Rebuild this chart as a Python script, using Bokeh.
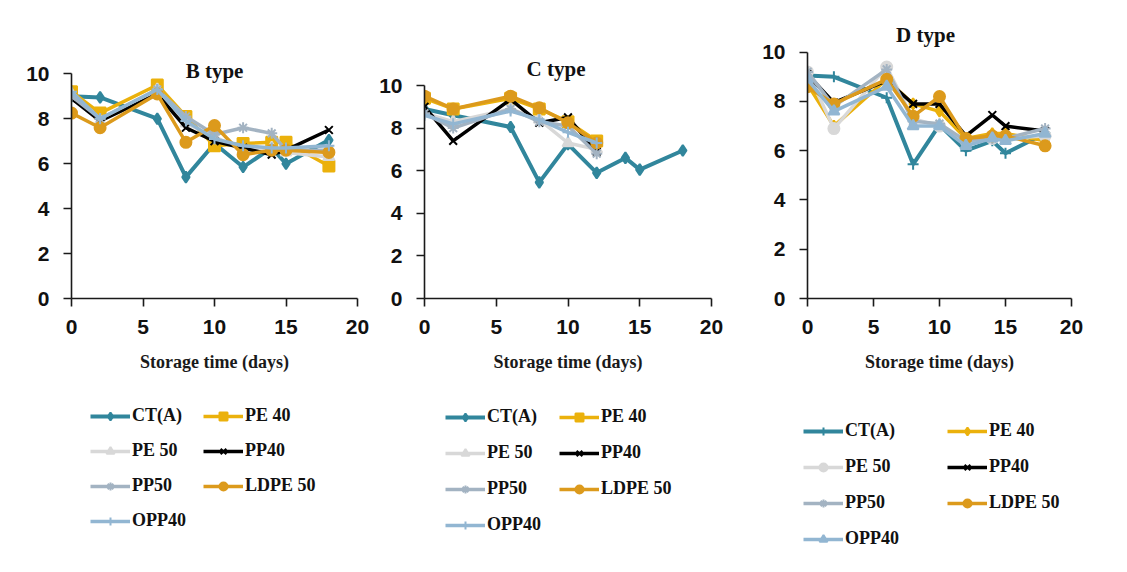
from bokeh.plotting import figure
from bokeh.models import Range1d, Legend, LegendItem, Label, FixedTicker
from bokeh.layouts import row, column
from bokeh.embed import file_html
from bokeh.resources import INLINE

# ---------------- data ----------------
series_names = ["CT(A)", "PE 40", "PE 50", "PP40", "PP50", "LDPE 50", "OPP40"]
days_full = [0, 2, 6, 8, 10, 12, 14, 15, 18]
days_short = [0, 2, 6, 8, 10, 12]
x_ticks = [0, 5, 10, 15, 20]
y_ticks = [0, 2, 4, 6, 8, 10]

# B type
b_ct = [9.0, 8.95, 8.0, 5.4, 6.9, 5.85, 6.7, 6.0, 7.05]
b_pe40 = [9.2, 8.25, 9.5, 8.1, 6.8, 6.9, 6.95, 6.95, 5.9]
b_pe50 = [9.1, 7.9, 9.3, 7.8, 7.2, 6.6, 6.7, 6.5, 6.3]
b_pp40 = [8.9, 7.9, 9.1, 7.6, 7.0, 6.7, 6.4, 6.6, 7.5]
b_pp50 = [9.0, 8.0, 9.3, 8.1, 7.3, 7.6, 7.35, 6.6, 6.6]
b_ldpe50 = [8.25, 7.6, 9.1, 6.95, 7.7, 6.4, 6.6, 6.6, 6.5]
b_opp40 = [9.2, 8.0, 9.3, 7.9, 7.1, 6.8, 6.7, 6.7, 6.8]

# C type (packaged samples measured to day 12)
c_ct = [8.9, 8.6, 8.05, 5.45, 7.25, 5.9, 6.6, 6.05, 6.95]
c_pe40 = [9.4, 8.9, 9.4, 8.9, 8.3, 7.4]
c_pe50 = [8.7, 8.3, 8.9, 8.4, 7.3, 7.0]
c_pp40 = [9.0, 7.4, 9.35, 8.25, 8.5, 6.9]
c_pp50 = [8.7, 8.0, 8.9, 8.3, 8.1, 6.8]
c_ldpe50 = [9.5, 8.9, 9.5, 8.95, 8.25, 7.3]
c_opp40 = [8.6, 8.2, 8.8, 8.4, 7.8, 7.3]

# D type
d_ct = [9.05, 9.0, 8.15, 5.45, 7.05, 6.0, 6.4, 5.9, 6.7]
d_pe40 = [8.7, 7.0, 8.9, 7.9, 7.6, 6.5, 6.7, 6.7, 6.4]
d_pe50 = [9.2, 6.9, 9.4, 7.3, 7.0, 6.4, 6.5, 6.5, 6.6]
d_pp40 = [9.1, 7.95, 8.85, 7.9, 7.9, 6.6, 7.45, 7.0, 6.8]
d_pp50 = [9.2, 7.8, 9.3, 7.2, 7.1, 6.4, 6.5, 6.5, 6.9]
d_ldpe50 = [8.6, 7.9, 8.9, 7.4, 8.2, 6.5, 6.6, 6.6, 6.2]
d_opp40 = [8.9, 7.6, 8.6, 7.0, 7.0, 6.2, 6.5, 6.4, 6.7]

# ---------------- styles ----------------
colors = ["#31869C", "#EBB10C", "#D8D8D8", "#000000", "#A3B3C2", "#DC9A1C", "#92B6D2"]
widths = [4, 3.5, 3.5, 3.5, 3.5, 3.5, 3.5]
markers_bc = ["diamond", "square", "triangle", "x", "asterisk", "circle", "cross"]
markers_d = ["cross", "diamond", "circle", "x", "asterisk", "circle", "triangle"]
# legend is filled column by column: this order gives rows CT/PE40, PE50/PP40, PP50/LDPE50, OPP40
legend_order = [0, 2, 4, 6, 1, 3, 5]

SERIF = "Liberation Serif"
SANS = "Liberation Sans"
ROW_H = 384
LEG_H = 186
FRAME_TOP = 20
FRAME_BOTTOM = 298


def draw_series(p, xs_list, ys_list, markers):
    out = []
    for xs, ys, col, lw, mk in zip(xs_list, ys_list, colors, widths, markers):
        ln = p.line(xs, ys, line_color=col, line_width=lw)
        sc = p.scatter(xs, ys, marker=mk, size=11, fill_color=col, line_color=col,
                       line_width=2)
        out.append([ln, sc])
    return out


def style_panel(p, title, title_dx, title_dy):
    p.outline_line_color = None
    p.xgrid.visible = False
    p.ygrid.visible = False
    p.background_fill_color = "white"
    p.border_fill_color = "white"
    for ax in (p.xaxis[0], p.yaxis[0]):
        ax.axis_line_color = "#1a1a1a"
        ax.axis_line_width = 1.6
        ax.major_tick_line_color = "#1a1a1a"
        ax.major_tick_line_width = 1.6
        ax.major_tick_in = 0
        ax.major_tick_out = 8
        ax.minor_tick_line_color = None
        ax.major_label_text_font = SANS
        ax.major_label_text_font_style = "bold"
        ax.major_label_text_font_size = "21px"
        ax.major_label_text_color = "#111111"
    p.xaxis.ticker = FixedTicker(ticks=x_ticks)
    p.yaxis.ticker = FixedTicker(ticks=y_ticks)
    p.xaxis.bounds = (0, 20)
    p.yaxis.bounds = (0, 10)
    p.xaxis.major_label_standoff = 13
    p.yaxis.major_label_standoff = 14
    p.xaxis.axis_label = "Storage time (days)"
    p.xaxis.axis_label_text_font = SERIF
    p.xaxis.axis_label_text_font_style = "bold"
    p.xaxis.axis_label_text_font_size = "18px"
    p.xaxis.axis_label_text_color = "#1a1a1a"
    p.xaxis.axis_label_standoff = 15
    p.add_layout(Label(x=10, y=10, text=title, text_align="center", text_baseline="middle",
                       x_offset=title_dx, y_offset=title_dy,
                       text_font=SERIF, text_font_style="bold", text_font_size="21px",
                       text_color="#111111"))


def panel(title, xs_list, ys_list, markers, fig_left, fig_right, x0_px, x20_px, y10_px,
          title_dx, title_dy):
    width = fig_right - fig_left
    left = int(round(x0_px - fig_left))
    right = width - int(round(x20_px - fig_left))
    # y range chosen so that value 10 sits at y10_px and 0 at the frame bottom
    ppu = (FRAME_BOTTOM - y10_px) / 10.0
    y_end = 10 + (y10_px - FRAME_TOP) / ppu
    p = figure(width=width, height=ROW_H, x_range=Range1d(0, 20), y_range=Range1d(0, y_end),
               output_backend="svg", toolbar_location=None, title=None,
               min_border_left=left, min_border_right=right,
               min_border_top=FRAME_TOP, min_border_bottom=ROW_H - FRAME_BOTTOM)
    style_panel(p, title, title_dx, title_dy)
    draw_series(p, xs_list, ys_list, markers)
    return p


xs_b = [days_full] * 7
xs_c = [days_full] + [days_short] * 6
xs_d = [days_full] * 7
ys_b = [b_ct, b_pe40, b_pe50, b_pp40, b_pp50, b_ldpe50, b_opp40]
ys_c = [c_ct, c_pe40, c_pe50, c_pp40, c_pp50, c_ldpe50, c_opp40]
ys_d = [d_ct, d_pe40, d_pe50, d_pp40, d_pp50, d_ldpe50, d_opp40]

pB = panel("B type", xs_b, ys_b, markers_bc, 0, 370, 70.7, 356.7, 73.3, 0, 3)
pC = panel("C type", xs_c, ys_c, markers_bc, 370, 748, 424.3, 710.7, 85.0, -12, 17)
pD = panel("D type", xs_d, ys_d, markers_d, 748, 1127, 806.7, 1070.7, 51.7, -14, 17)

# ---------------- legends (own strip below the panels) ----------------
pL = figure(width=1127, height=LEG_H, x_range=Range1d(100, 101), y_range=Range1d(100, 101),
            output_backend="svg", toolbar_location=None, title=None,
            x_axis_location=None, y_axis_location=None,
            min_border_left=0, min_border_right=0, min_border_top=0, min_border_bottom=0)
pL.outline_line_color = None
pL.grid.visible = False


def add_legend(p, xs_list, ys_list, markers, loc, label_w, spacing):
    rends = draw_series(p, xs_list, ys_list, markers)
    items = [LegendItem(label=series_names[i], renderers=rends[i]) for i in legend_order]
    leg = Legend(items=items, ncols=2, location=loc,
                 label_text_font=SERIF, label_text_font_style="bold",
                 label_text_font_size="18px", label_text_color="#111111",
                 glyph_width=40, glyph_height=20, label_height=20,
                 label_width=label_w, label_standoff=2,
                 spacing=spacing, padding=0, margin=0,
                 border_line_color=None, background_fill_alpha=0)
    p.add_layout(leg, "center")


add_legend(pL, xs_b, ys_b, markers_bc, (90, 39), 57, 14)
add_legend(pL, xs_c, ys_c, markers_bc, (445, 35), 57, 15)
add_legend(pL, xs_d, ys_d, markers_d, (803, 21), 87, 15)

layout = column(row(pB, pC, pD), pL)
open("out.html", "w").write(file_html(layout, INLINE))
